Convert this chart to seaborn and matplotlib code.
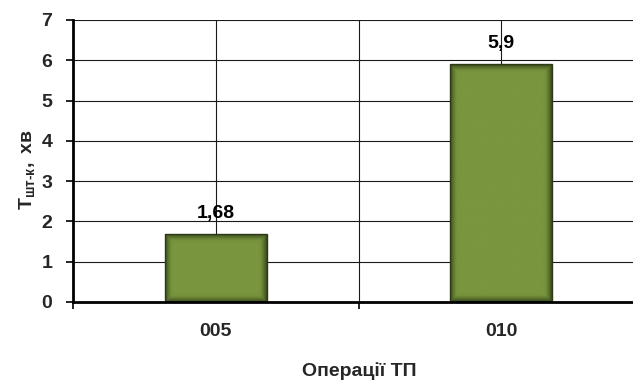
import numpy as np
import pandas as pd
import matplotlib
matplotlib.use("Agg")
import matplotlib.pyplot as plt
from matplotlib.colors import LinearSegmentedColormap
import seaborn as sns

operations = ["005", "010"]
t_values = [1.68, 5.9]
value_labels = ["1,68", "5,9"]
y_ticks = [0, 1, 2, 3, 4, 5, 6, 7]

sns.set_theme(style="white")
plt.rcParams["font.family"] = ["Liberation Sans", "DejaVu Sans"]
plt.rcParams["font.weight"] = "bold"
plt.rcParams["mathtext.fontset"] = "custom"
plt.rcParams["mathtext.rm"] = "Liberation Sans:bold"
plt.rcParams["mathtext.it"] = "Liberation Sans:bold"
plt.rcParams["mathtext.bf"] = "Liberation Sans:bold"

FS = 14

df = pd.DataFrame({"op": operations, "t": t_values})

fig = plt.figure(figsize=(6.33, 3.8), dpi=100)
ax = fig.add_axes([73 / 633, 1 - 302 / 380, 571 / 633, 282 / 380])

sns.barplot(data=df, x="op", y="t", ax=ax, width=0.357,
            color="#77933C", edgecolor="#2E3A16", linewidth=1.0,
            saturation=1)

# olive fill with a darker inner shadow toward the edges
cmap = LinearSegmentedColormap.from_list("olive", ["#3A4A1D", "#5B742E", "#76913C", "#7A963E"])
for patch in ax.patches:
    x0, y0 = patch.get_x(), patch.get_y()
    w, h = patch.get_width(), patch.get_height()
    nx, ny = 200, 200
    u = np.linspace(0, 1, nx)
    v = np.linspace(0, 1, ny)
    U, V = np.meshgrid(u, v)
    px_w, px_h = 102.0, h * 40.3
    dx = np.minimum(U, 1 - U) * px_w
    dy = np.minimum(V, 1 - V) * px_h
    d = np.minimum(dx, dy)
    shade = np.clip(d / 9.0, 0, 1)
    img = ax.imshow(shade, cmap=cmap, vmin=0, vmax=1, extent=[x0, x0 + w, y0, y0 + h],
                    origin="lower", aspect="auto", zorder=patch.get_zorder() - 0.05,
                    interpolation="bilinear")
    img.set_clip_path(patch)
    patch.set_facecolor("none")

for patch, lab in zip(ax.patches, value_labels):
    cx = patch.get_x() + patch.get_width() / 2
    ax.annotate(lab, (cx, patch.get_height()), xytext=(0, 9), textcoords="offset points",
                ha="center", va="bottom", fontsize=FS, fontweight="bold", color="black")

ax.set_xlim(-0.5, 1.5)
ax.set_ylim(0, 7)
ax.set_yticks(y_ticks)
ax.set_yticklabels([str(t) for t in y_ticks])
ax.set_xticks([0, 1])
ax.set_xticks([-0.5, 0.5, 1.5], minor=True)

ax.set_axisbelow(True)
ax.grid(True, axis="y", color="#1a1a1a", linewidth=0.8)
ax.grid(True, axis="x", which="both", color="#1a1a1a", linewidth=0.8)

for s in ["top", "right"]:
    ax.spines[s].set_visible(False)
for s in ["left", "bottom"]:
    ax.spines[s].set_color("black")
    ax.spines[s].set_linewidth(2)

ax.tick_params(axis="y", which="major", direction="out", length=5, width=1.2,
               color="black", pad=10, labelsize=FS, left=True)
ax.tick_params(axis="x", which="major", length=0, pad=15, labelsize=FS)
ax.tick_params(axis="x", which="minor", direction="out", length=5, width=1.2,
               color="black", bottom=True)
for t in ax.get_xticklabels() + ax.get_yticklabels():
    t.set_fontweight("bold")

ax.set_xlabel("Операції ТП", fontsize=FS, fontweight="bold", va="center")
ax.xaxis.set_label_coords(286 / 571, -69 / 282)
ax.set_ylabel(r"$\mathrm{Т}_{\mathrm{шт‐к}}\mathrm{,\ хв}$", fontsize=FS)
ax.yaxis.set_label_coords(-36 / 571, 0.47)

fig.savefig("out.png", dpi=100)
